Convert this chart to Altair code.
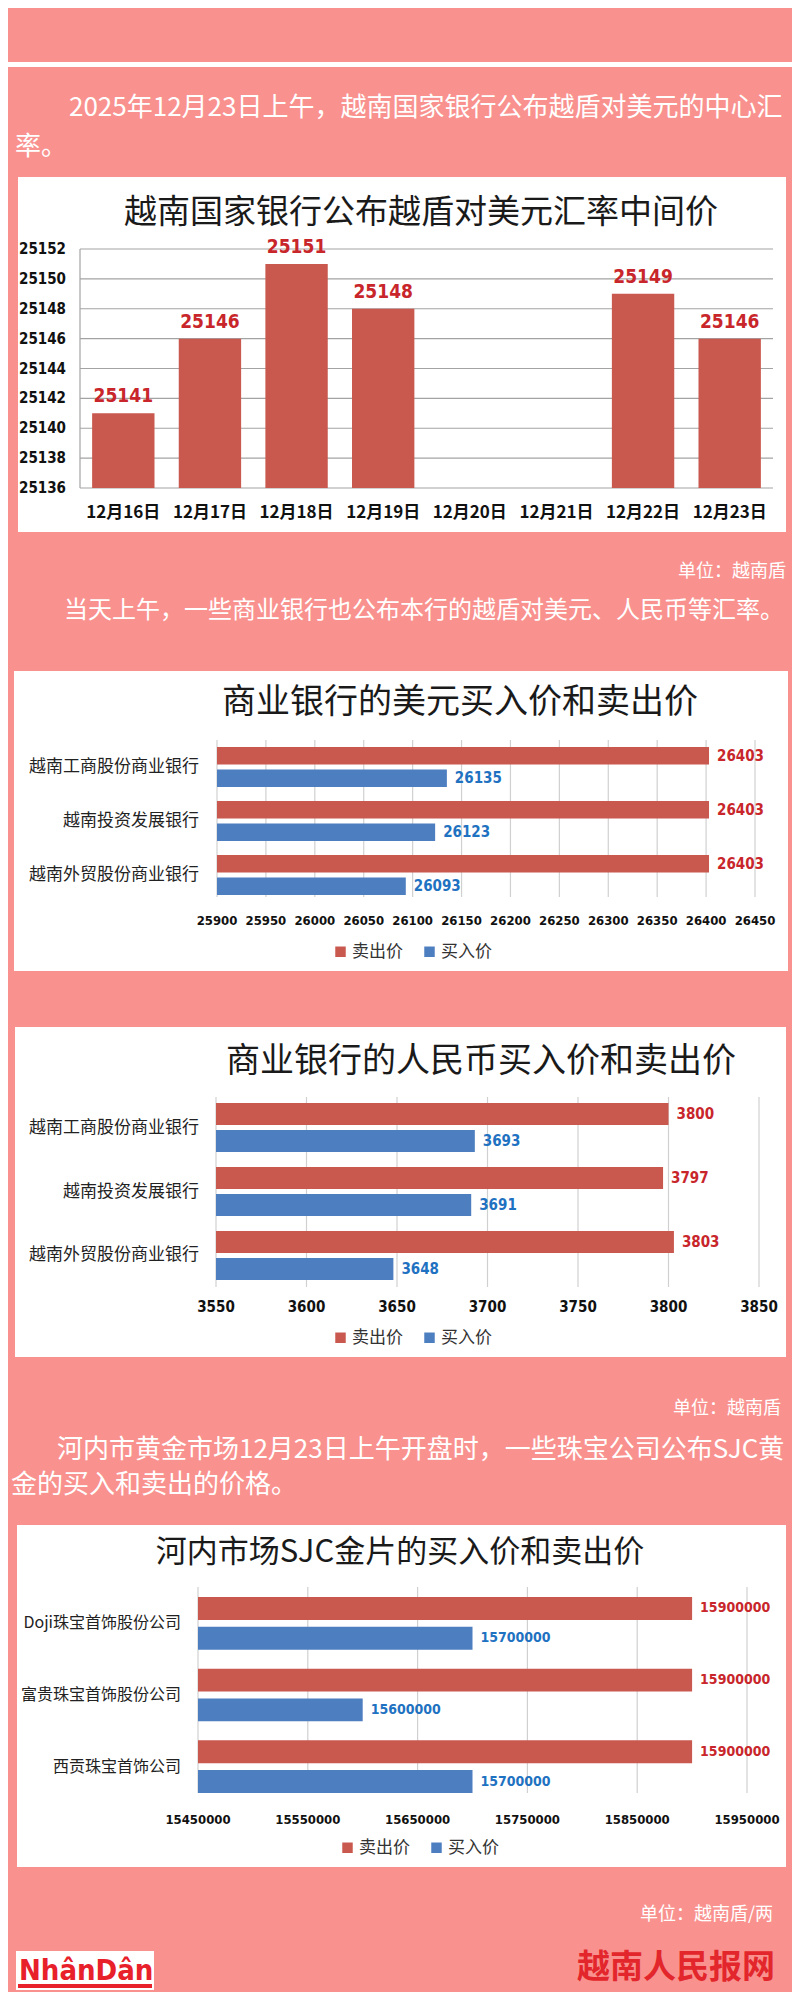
import altair as alt
import pandas as pd

# ---------------- data ----------------
dates = ["12月16日", "12月17日", "12月18日", "12月19日", "12月20日", "12月21日", "12月22日", "12月23日"]
central_rate = [25141, 25146, 25151, 25148, None, None, 25149, 25146]
central_ticks = [25136, 25138, 25140, 25142, 25144, 25146, 25148, 25150, 25152]

banks = ["越南工商股份商业银行", "越南投资发展银行", "越南外贸股份商业银行"]
usd_sell = [26403, 26403, 26403]
usd_buy = [26135, 26123, 26093]
usd_ticks = [25900, 25950, 26000, 26050, 26100, 26150, 26200, 26250, 26300, 26350, 26400, 26450]

cny_sell = [3800, 3797, 3803]
cny_buy = [3693, 3691, 3648]
cny_ticks = [3550, 3600, 3650, 3700, 3750, 3800, 3850]

gold_companies = ["Doji珠宝首饰股份公司", "富贵珠宝首饰股份公司", "西贡珠宝首饰公司"]
gold_sell = [15900000, 15900000, 15900000]
gold_buy = [15700000, 15600000, 15700000]
gold_ticks = [15450000, 15550000, 15650000, 15750000, 15850000, 15950000]

SERIES = ["卖出价", "买入价"]

# ---------------- styles ----------------
PINK = "#F9928F"
BAR_RED = "#C9594F"
BAR_BLUE = "#4D7EC0"
LBL_RED = "#C8262B"
LBL_BLUE = "#1F72C1"
GRID = "#A3A3A3"
GRID_LIGHT = "#D0D0D0"
CJK = "Noto Sans CJK SC"
NUM = "'Liberation Sans Narrow', 'DejaVu Sans Condensed', 'Liberation Sans', sans-serif"
DARK = "#1a1a1a"

ONE = pd.DataFrame({"k": [0]})


def txt(s, x, y, size, color="white", align="left", weight="normal", font=CJK, baseline="middle"):
    return alt.Chart(pd.DataFrame({"t": [s]})).mark_text(
        x=x, y=y, fontSize=size, color=color, align=align,
        fontWeight=weight, font=font, baseline=baseline
    ).encode(text="t:N")


def box(x, y, x2, y2, color="white"):
    return alt.Chart(ONE).mark_rect(color=color).encode(
        x=alt.value(x), x2=alt.value(x2), y=alt.value(y), y2=alt.value(y2)
    )


# ---------------- chart 1: central rate ----------------
df1 = pd.DataFrame({"date": dates, "rate": central_rate})
t1 = pd.DataFrame({"v": central_ticks})
xs1 = alt.Scale(domain=dates, range=[72, 765], paddingInner=0.28, paddingOuter=0.14)
ys1 = alt.Scale(domain=[central_ticks[0], central_ticks[-1]], range=[480, 241], zero=False, nice=False)

grid1 = alt.Chart(t1).mark_rule(color=GRID, strokeWidth=1.2).encode(
    y=alt.Y("v:Q", scale=ys1, axis=None), x=alt.value(72), x2=alt.value(765))
axisline1 = alt.Chart(ONE).mark_rule(color=GRID, strokeWidth=1.2).encode(
    x=alt.value(72), y=alt.value(241), y2=alt.value(480))
bars1 = alt.Chart(df1).transform_filter("isValid(datum.rate)").mark_bar(color=BAR_RED).encode(
    x=alt.X("date:N", scale=xs1, axis=None),
    y=alt.Y("rate:Q", scale=ys1, axis=None),
    y2=alt.datum(central_ticks[0]))
vals1 = alt.Chart(df1).transform_filter("isValid(datum.rate)").mark_text(
    font=NUM, fontWeight="bold", fontSize=19, color=LBL_RED, baseline="middle", dy=-17).encode(
    x=alt.X("date:N", scale=xs1, axis=None),
    y=alt.Y("rate:Q", scale=ys1, axis=None),
    text=alt.Text("rate:Q", format="d"))
ylab1 = alt.Chart(t1).mark_text(font=NUM, fontWeight="bold", fontSize=15, color="#111",
                                align="right", baseline="middle").encode(
    y=alt.Y("v:Q", scale=ys1, axis=None), x=alt.value(58), text=alt.Text("v:Q", format="d"))
xlab1 = alt.Chart(pd.DataFrame({"date": dates})).mark_text(
    font=CJK, fontWeight="bold", fontSize=17, color="#111", baseline="middle").encode(
    x=alt.X("date:N", scale=xs1, axis=None), y=alt.value(505), text="date:N")

chart1 = alt.layer(grid1, axisline1, bars1, vals1, ylab1, xlab1)


# ---------------- horizontal bar charts ----------------
def hchart(cats, sell, buy, ticks, xr, yr, pin, poff, gy, xlab_y, ylab_x, leg_x, leg_y,
           val_size, tick_size, cat_size):
    n = len(cats)
    df = pd.DataFrame({"cat": cats + cats,
                       "series": [SERIES[0]] * n + [SERIES[1]] * n,
                       "value": sell + buy})
    tk = pd.DataFrame({"v": ticks})
    cdf = pd.DataFrame({"cat": cats})
    xs = alt.Scale(domain=[ticks[0], ticks[-1]], range=xr, zero=False, nice=False)
    ys = alt.Scale(domain=cats, range=yr, paddingInner=pin, paddingOuter=0)
    yo = alt.Scale(domain=SERIES, paddingInner=poff, paddingOuter=0)

    grid = alt.Chart(tk).mark_rule(color=GRID_LIGHT, strokeWidth=1.2).encode(
        x=alt.X("v:Q", scale=xs, axis=None), y=alt.value(gy[0]), y2=alt.value(gy[1]))
    bars = alt.Chart(df).mark_bar().encode(
        x=alt.X("value:Q", scale=xs, axis=None),
        x2=alt.datum(ticks[0]),
        y=alt.Y("cat:N", scale=ys, axis=None),
        yOffset=alt.YOffset("series:N", scale=yo),
        color=alt.Color("series:N",
                        scale=alt.Scale(domain=SERIES, range=[BAR_RED, BAR_BLUE]),
                        legend=alt.Legend(orient="none", legendX=leg_x, legendY=leg_y,
                                          direction="horizontal", title=None,
                                          symbolType="square", symbolSize=110,
                                          symbolStrokeWidth=0, labelFont=CJK,
                                          labelFontSize=17, labelColor="#333",
                                          columnPadding=18, labelOffset=3, padding=0)))
    vals = alt.Chart(df).mark_text(align="left", baseline="middle", dx=8, font=NUM,
                                   fontWeight="bold", fontSize=val_size).encode(
        x=alt.X("value:Q", scale=xs, axis=None),
        y=alt.Y("cat:N", scale=ys, axis=None),
        yOffset=alt.YOffset("series:N", scale=yo),
        fill=alt.Fill("series:N", scale=alt.Scale(domain=SERIES, range=[LBL_RED, LBL_BLUE]),
                      legend=None),
        text=alt.Text("value:Q", format="d"))
    xl = alt.Chart(tk).mark_text(baseline="middle", font=NUM, fontWeight="bold",
                                 fontSize=tick_size, color="#111").encode(
        x=alt.X("v:Q", scale=xs, axis=None), y=alt.value(xlab_y),
        text=alt.Text("v:Q", format="d"))
    yl = alt.Chart(cdf).mark_text(align="right", baseline="middle", font=CJK,
                                  fontSize=cat_size, color="#222").encode(
        y=alt.Y("cat:N", scale=ys, axis=None), x=alt.value(ylab_x), text="cat:N")
    return alt.layer(grid, bars, vals, xl, yl)


chart2 = hchart(banks, usd_sell, usd_buy, usd_ticks, [209, 747], [739, 887], 0.26, 0.22,
                (732, 889), 913, 191, 324, 935, 15, 13, 17)
chart3 = hchart(banks, cny_sell, cny_buy, cny_ticks, [208, 751], [1095, 1272], 0.234, 0.185,
                (1089, 1279), 1299, 191, 324, 1321, 15, 15, 17)
chart4 = hchart(gold_companies, gold_sell, gold_buy, gold_ticks, [190, 739], [1589, 1785], 0.264, 0.233,
                (1579, 1785), 1812, 173, 331, 1831, 14, 13, 16)

# ---------------- decorations & texts ----------------
deco = [
    box(0, 54, 784, 59),                    # white separator line
    box(10, 169, 778, 524),                 # chart 1 panel
    box(6, 663, 780, 963),                  # chart 2 panel
    box(7, 1019, 778, 1349),                # chart 3 panel
    box(9, 1517, 778, 1859),                # chart 4 panel
    box(8, 1943, 146, 1982),                # logo background
    box(10, 1976, 144, 1980, "#E8202A"),    # logo underline
]

texts = [
    txt("2025年12月23日上午，越南国家银行公布越盾对美元的中心汇", 61, 100, 26),
    txt("率。", 7, 139, 26),
    txt("越南国家银行公布越盾对美元汇率中间价", 413, 205, 33, color=DARK, align="center"),
    txt("单位：越南盾", 778, 564, 18, align="right"),
    txt("当天上午，一些商业银行也公布本行的越盾对美元、人民币等汇率。", 56, 603, 24),
    txt("商业银行的美元买入价和卖出价", 452, 695, 34, color=DARK, align="center"),
    txt("商业银行的人民币买入价和卖出价", 473, 1054, 34, color=DARK, align="center"),
    txt("单位：越南盾", 773, 1401, 18, align="right"),
    txt("河内市黄金市场12月23日上午开盘时，一些珠宝公司公布SJC黄", 49, 1442, 26),
    txt("金的买入和卖出的价格。", 3, 1477, 26),
    txt("河内市场SJC金片的买入价和卖出价", 392, 1545, 31, color=DARK, align="center"),
    txt("单位：越南盾/两", 765, 1907, 18, align="right"),
    txt("NhânDân", 11, 1972, 29, color="#E8202A", weight="bold", font=NUM, baseline="alphabetic"),
    txt("越南人民报网", 767, 1960, 33, color="#E3262B", align="right", weight="bold"),
]

chart = alt.layer(*deco, chart1, chart2, chart3, chart4, *texts).resolve_scale(
    x="independent", y="independent", yOffset="independent",
    color="independent", fill="independent"
).properties(
    width=784, height=1984, padding=0, autosize="none", background=PINK
).configure_view(strokeWidth=0)

chart.save("out.html", embed_options={"renderer": "svg", "actions": False})
